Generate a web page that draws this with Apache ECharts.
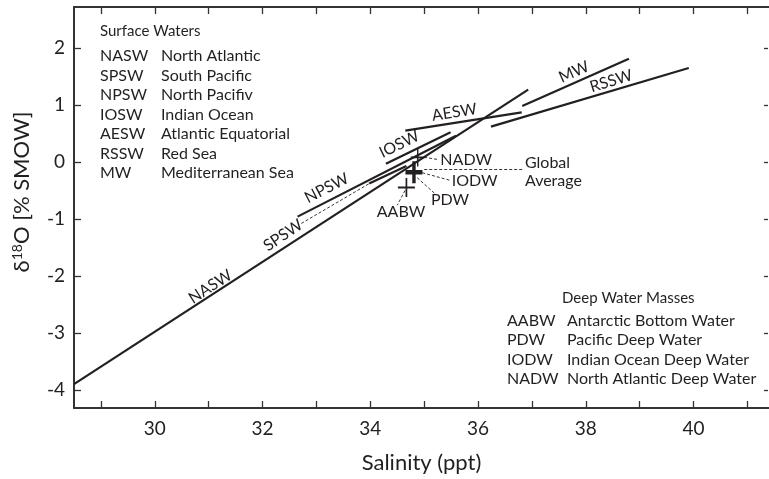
<!DOCTYPE html>
<html>
<head>
<meta charset="utf-8">
<script src="https://cdn.jsdelivr.net/npm/echarts@6/dist/echarts.min.js"></script>
<style>
  html, body { margin: 0; padding: 0; background: #fff; }
  #chart { width: 769px; height: 479px; }
</style>
</head>
<body>
<div id="chart"></div>
<script>
// Salinity (ppt) vs δ18O mixing lines for surface waters and deep water masses
const salinityTicks = [29, 30, 31, 32, 33, 34, 35, 36, 37, 38, 39, 40, 41];
const salinityLabels = [30, 32, 34, 36, 38, 40];
const deltaTicks = [-4, -3, -2, -1, 0, 1, 2];

// Surface-water lines, [salinity, δ18O] end points
const naswLine = [[28.5, -3.9], [36.93, 1.27]];
const npswLine = [[32.65, -0.96], [35.59, 0.46]];
const spswLine = [[33.98, -0.38], [34.67, -0.07]];
const ioswLine = [[34.29, -0.03], [35.49, 0.52]];
const aeswLine = [[34.65, 0.55], [36.81, 0.87]];
const mwLine   = [[36.82, 0.98], [38.8, 1.81]];
const rsswLine = [[36.24, 0.62], [39.91, 1.65]];

// Line names placed along the lines: [salinity, δ18O, text, angle]
const lineNames = [
  [31.03, -2.19, 'NASW', 33],
  [32.38, -1.29, 'SPSW', 34],
  [33.19, -0.46, 'NPSW', 27],
  [34.54, 0.31, 'IOSW', 26],
  [35.56, 0.87, 'AESW', 9],
  [37.78, 1.58, 'MW', 24],
  [38.47, 1.42, 'RSSW', 17]
];

// Deep water masses: [salinity, δ18O]
const aabwPoint = [34.67, -0.45];
const meanPoint = [34.81, -0.18];
const nadwPoint = [34.88, 0.08];

// Leader lines from labels to their marks
const spswLeader   = [[32.72, -1.08], [33.98, -0.38]];
const nadwLeader   = [[35.0, 0.082], [35.27, 0.04]];
const globalLeader = [[35.0, -0.133], [36.82, -0.133]];
const iodwLeader   = [[34.965, -0.19], [35.49, -0.325]];
const pdwLeader    = [[34.87, -0.277], [35.2, -0.557]];
const aabwLeader   = [[34.645, -0.5], [34.5, -0.76]];

// Deep water labels: [salinity, δ18O, text, anchor]
const deepNames = [
  [35.3, 0.035, 'NADW', 'left'],
  [35.51, -0.325, 'IODW', 'left'],
  [35.48, -0.67, 'PDW', 'center'],
  [34.57, -0.88, 'AABW', 'center'],
  [36.87, -0.015, 'Global', 'left'],
  [36.87, -0.325, 'Average', 'left']
];

const surfaceKey = [
  ['NASW', 'North Atlantic'],
  ['SPSW', 'South Pacific'],
  ['NPSW', 'North Pacifiv'],
  ['IOSW', 'Indian Ocean'],
  ['AESW', 'Atlantic Equatorial'],
  ['RSSW', 'Red Sea'],
  ['MW', 'Mediterranean Sea']
];
const deepKey = [
  ['AABW', 'Antarctic Bottom Water'],
  ['PDW', 'Pacific Deep Water'],
  ['IODW', 'Indian Ocean Deep Water'],
  ['NADW', 'North Atlantic Deep Water']
];

const INK = '#231f20';
const FONT = 'Lato, "Open Sans", sans-serif';

const chart = echarts.init(document.getElementById('chart'), null, { renderer: 'canvas' });

function solid(data) {
  return {
    type: 'line', data: data, symbol: 'none', silent: true, z: 3,
    lineStyle: { color: INK, width: 2.2 }
  };
}
function dashed(data) {
  return {
    type: 'line', data: data, symbol: 'none', silent: true, z: 2,
    lineStyle: { color: INK, width: 0.9, type: [3, 2] }
  };
}

const thinCross = 'path://M9,0 h2 v20 h-2 z M0,9 h20 v2 h-20 z';
const boldCross = 'path://M8,0 h4 v20 h-4 z M0,8 h20 v4 h-20 z';

const axisBase = {
  type: 'value',
  axisLine: { show: true, onZero: false, lineStyle: { color: '#333', width: 2 } },
  splitLine: { show: false }
};

const labelStyle = { color: INK, fontSize: 16, fontFamily: FONT, opacity: 1 };

const option = {
  animation: false,
  backgroundColor: '#fff',
  grid: { left: 74, top: 7, right: -2, bottom: 68 },
  xAxis: [
    Object.assign({}, axisBase, {
      position: 'bottom', min: 28.5, max: 41.4,
      axisTick: { inside: true, length: 7, customValues: salinityTicks, lineStyle: { color: '#333', width: 1.3 } },
      axisLabel: { customValues: salinityLabels, color: INK, fontSize: 19, fontFamily: FONT, margin: 11 },
      name: 'Salinity (ppt)', nameLocation: 'middle', nameGap: 44,
      nameTextStyle: { color: INK, fontSize: 22, fontFamily: FONT }
    }),
    Object.assign({}, axisBase, {
      position: 'top', min: 28.5, max: 41.4,
      axisTick: { inside: true, length: 7, customValues: salinityTicks, lineStyle: { color: '#333', width: 1.3 } },
      axisLabel: { show: false }
    })
  ],
  yAxis: [
    Object.assign({}, axisBase, {
      position: 'left', min: -4.32, max: 2.72,
      axisTick: { inside: true, length: 7, customValues: deltaTicks, lineStyle: { color: '#333', width: 1.3 } },
      axisLabel: { customValues: deltaTicks, color: INK, fontSize: 19, fontFamily: FONT, margin: 9 }
    }),
    Object.assign({}, axisBase, {
      position: 'right', min: -4.32, max: 2.72, offset: -1,
      axisLine: { show: false },
      axisTick: { inside: true, length: 4, customValues: deltaTicks, lineStyle: { color: '#333', width: 1.3 } },
      axisLabel: { show: false }
    })
  ],
  series: [
    solid(naswLine), solid(npswLine), solid(spswLine), solid(ioswLine),
    solid(aeswLine), solid(mwLine), solid(rsswLine),
    dashed(spswLeader), dashed(nadwLeader), dashed(globalLeader),
    dashed(iodwLeader), dashed(pdwLeader), dashed(aabwLeader),
    {
      type: 'scatter', silent: true, z: 4,
      itemStyle: { color: INK, opacity: 1 },
      data: [
        { value: aabwPoint, symbol: thinCross, symbolSize: [17, 19] },
        { value: meanPoint, symbol: boldCross, symbolSize: [17, 22] },
        { value: nadwPoint, symbol: thinCross, symbolSize: [14, 18] }
      ]
    },
    {
      type: 'scatter', silent: true, z: 5, symbolSize: 0,
      itemStyle: { opacity: 1 },
      data: lineNames.map(function (n) {
        return {
          value: [n[0], n[1]], name: n[2],
          label: Object.assign({ show: true, position: 'inside', rotate: n[3], formatter: n[2] }, labelStyle)
        };
      })
    },
    {
      type: 'scatter', silent: true, z: 5, symbolSize: 0,
      itemStyle: { opacity: 1 },
      data: deepNames.map(function (n) {
        return {
          value: [n[0], n[1]], name: n[2],
          label: Object.assign({ show: true, position: n[3] === 'left' ? 'right' : 'inside', distance: 0,
            formatter: n[2] }, labelStyle)
        };
      })
    }
  ],
  graphic: []
};

// Key for surface waters (upper left)
option.graphic.push({
  type: 'text', left: 100, top: 24,
  style: { text: 'Surface Waters', fill: INK, font: '15px ' + FONT }
});
surfaceKey.forEach(function (row, i) {
  const y = 48 + i * 19.5;
  option.graphic.push({ type: 'text', left: 100, top: y, style: { text: row[0], fill: INK, font: '16px ' + FONT } });
  option.graphic.push({ type: 'text', left: 161, top: y, style: { text: row[1], fill: INK, font: '16px ' + FONT } });
});

// Key for deep water masses (lower right)
option.graphic.push({
  type: 'text', left: 562, top: 291,
  style: { text: 'Deep Water Masses', fill: INK, font: '15px ' + FONT }
});
deepKey.forEach(function (row, i) {
  const y = 313 + i * 19.3;
  option.graphic.push({ type: 'text', left: 507, top: y, style: { text: row[0], fill: INK, font: '16px ' + FONT } });
  option.graphic.push({ type: 'text', left: 567, top: y, style: { text: row[1], fill: INK, font: '16px ' + FONT } });
});

// Y axis title with superscript
option.graphic.push({
  type: 'text', x: 22, y: 192, rotation: Math.PI / 2,
  style: {
    text: '{a|δ}{s|18}{a|O [% SMOW]}',
    align: 'center', verticalAlign: 'middle',
    rich: {
      a: { fontSize: 22, fontFamily: FONT, fill: INK, color: INK },
      s: { fontSize: 14, fontFamily: FONT, fill: INK, color: INK, padding: [0, 0, 10, 0] }
    }
  }
});

chart.setOption(option);
</script>
</body>
</html>
